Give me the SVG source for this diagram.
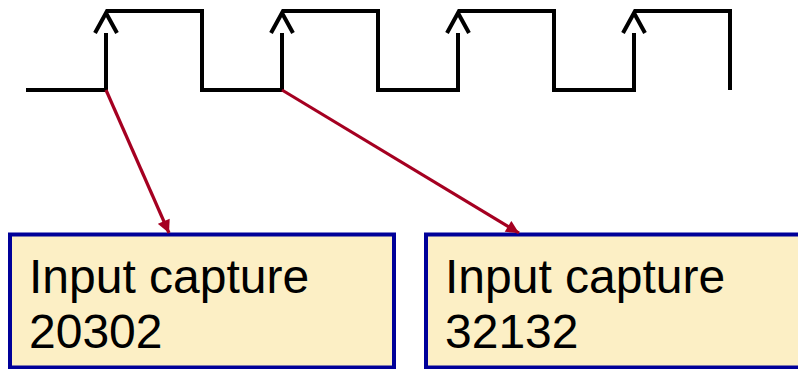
<svg xmlns="http://www.w3.org/2000/svg" width="798" height="369" viewBox="0 0 798 369">
  <style>
    .wave { fill: none; stroke: #000; stroke-width: 4; stroke-linejoin: miter; stroke-linecap: butt; }
    .box { fill: #fcefc5; stroke: #000099; stroke-width: 4; }
    .lbl { font-family: "Liberation Sans", Arial, sans-serif; font-size: 48px; fill: #000; }
    .conn { stroke: #a50021; stroke-width: 3.2; fill: none; }
  </style>
  <defs>
    <marker id="ah" viewBox="0 0 10 10" refX="10" refY="5" markerWidth="4.5" markerHeight="4" markerUnits="strokeWidth" orient="auto">
      <path d="M0,0 L10,5 L0,10 z" fill="#a50021"/>
    </marker>
  </defs>
  <g id="waveform">
    <path class="wave" d="M26,90 H106 V33 M106,11 H202 V90 H282 V33 M282,11 H378 V90 H458 V33 M458,11 H554 V90 H634 V33 M634,11 H730 V90"/>
    <path class="wave" d="M95,33 L106,13 L117,33 M271,33 L282,13 L293,33 M447,33 L458,13 L469,33 M623,33 L634,13 L645,33"/>
  </g>
  <g id="node1">
    <rect class="box" x="10" y="234.5" width="384" height="133"/>
    <text class="lbl" x="29" y="293">Input capture</text>
    <text class="lbl" x="29" y="348">20302</text>
  </g>
  <g id="node2">
    <rect class="box" x="426" y="234.5" width="380" height="133"/>
    <text class="lbl" x="445" y="293">Input capture</text>
    <text class="lbl" x="445" y="348">32132</text>
  </g>
  <g id="connectors">
    <line class="conn" x1="106" y1="90" x2="169" y2="233" marker-end="url(#ah)"/>
    <line class="conn" x1="282" y1="90" x2="519" y2="233" marker-end="url(#ah)"/>
  </g>
</svg>
